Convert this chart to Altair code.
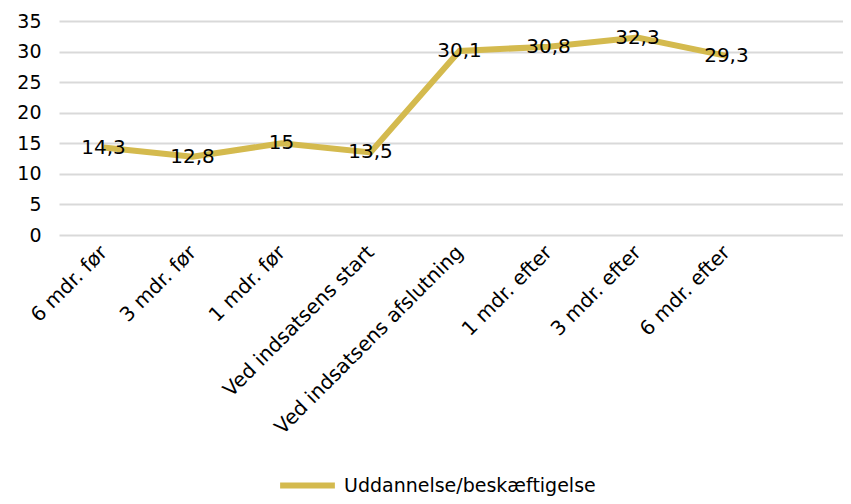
import json
import altair as alt
import pandas as pd

categories = ["6 mdr. før", "3 mdr. før", "1 mdr. før", "Ved indsatsens start",
              "Ved indsatsens afslutning", "1 mdr. efter", "3 mdr. efter", "6 mdr. efter"]
values = [14.3, 12.8, 15, 13.5, 30.1, 30.8, 32.3, 29.3]
series_name = "Uddannelse/beskæftigelse"
y_ticks = [0, 5, 10, 15, 20, 25, 30, 35]

df = pd.DataFrame({
    "idx": list(range(len(categories))),
    "cat": categories,
    "value": values,
    "label": [f"{v:g}".replace(".", ",") for v in values],
    "series": series_name,
})

FONT = "DejaVu Sans"
GOLD = "#D4BA4E"

label_expr = json.dumps(categories, ensure_ascii=False) + "[datum.value]"

x = alt.X("idx:Q",
          scale=alt.Scale(domain=[-0.5, 8.31], nice=False, zero=False),
          axis=alt.Axis(values=list(range(len(categories))), labelExpr=label_expr,
                        title=None, grid=False, domain=False, ticks=False,
                        labelAngle=-45, labelAlign="right", labelBaseline="middle",
                        labelPadding=14, labelFontSize=20, labelFont=FONT,
                        labelColor="#000000", labelOverlap=False, labelBound=False,
                        labelFlush=False, labelLimit=1000))
y = alt.Y("value:Q",
          scale=alt.Scale(domain=[0, 35], nice=False),
          axis=alt.Axis(values=y_ticks, tickCount=8, title=None, domain=False, ticks=False,
                        gridColor="#D9D9D9", gridWidth=2, labelFontSize=19,
                        labelFont=FONT, labelColor="#000000", labelPadding=18,
                        labelOverlap=False, labelFlush=False, labelBound=False))

line = alt.Chart(df).mark_line(strokeWidth=6).encode(
    x=x, y=y,
    color=alt.Color("series:N", scale=alt.Scale(domain=[series_name], range=[GOLD]),
                    legend=alt.Legend(title=None, orient="none", legendX=218, legendY=434,
                                      symbolType="stroke", symbolSize=3000,
                                      symbolStrokeWidth=6, labelFontSize=19,
                                      labelFont=FONT, labelColor="#000000",
                                      labelOffset=6, labelLimit=1000))
)

text = alt.Chart(df).mark_text(font=FONT, fontSize=20, color="#000000",
                               align="center", baseline="middle").encode(
    x=x, y=y, text="label:N"
)

chart = (line + text).properties(
    width=784, height=214,
    autosize=alt.AutoSizeParams(type="none"),
    padding={"left": 51, "top": 13, "right": 0, "bottom": 261},
).configure_view(stroke=None)

chart.save("out.html", embed_options={"renderer": "svg", "actions": False})
